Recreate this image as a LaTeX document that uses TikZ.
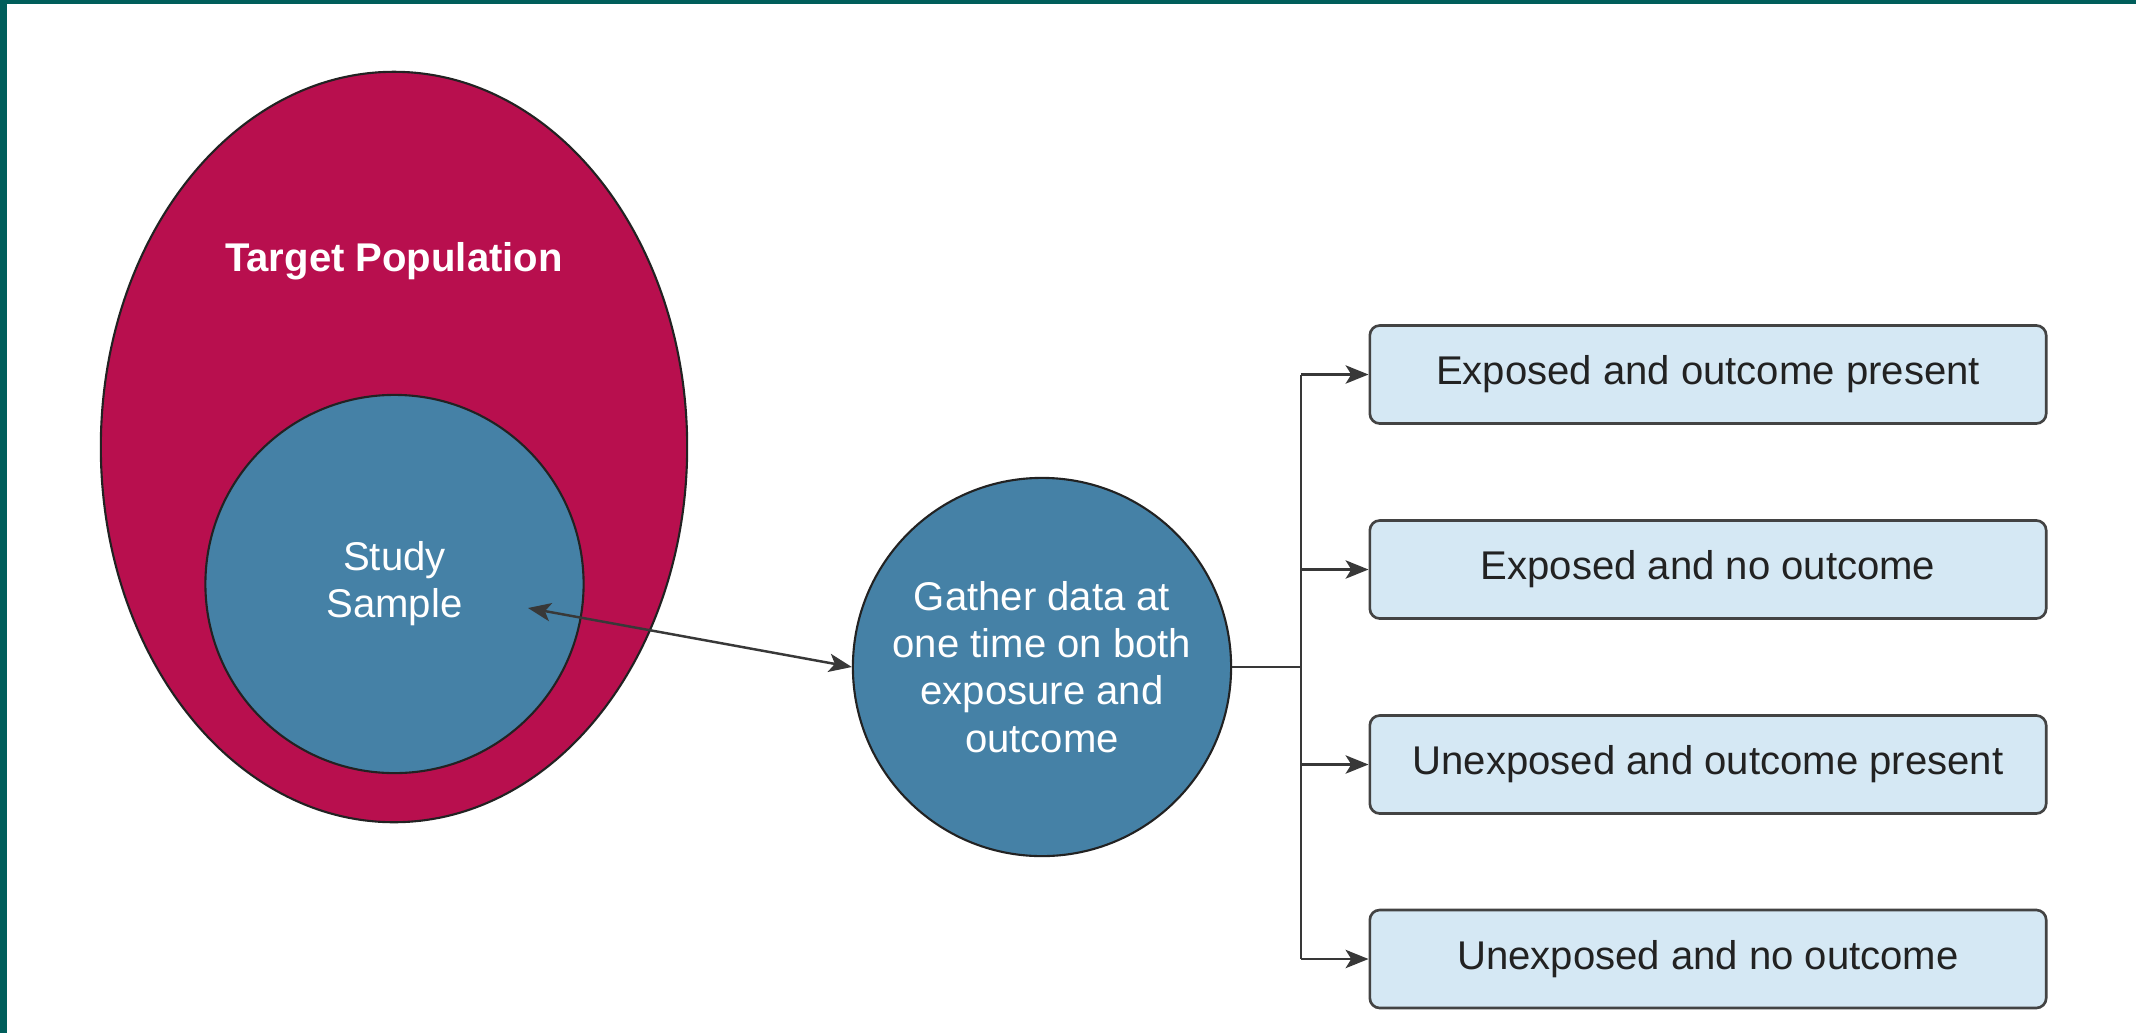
\documentclass[tikz,border=0pt]{standalone}
\usepackage{fontspec}
\setmainfont{Liberation Sans}
\usetikzlibrary{shapes.geometric,arrows.meta}
\definecolor{popred}{RGB}{184,15,78}
\definecolor{sampleblue}{RGB}{69,129,166}
\definecolor{boxfill}{RGB}{213,232,244}
\definecolor{frameteal}{RGB}{0,94,91}
\definecolor{ink}{RGB}{34,34,34}
\begin{document}
\begin{tikzpicture}[x=0.01cm,y=-0.01cm,
  every node/.style={font=\fontsize{11.4}{13.4}\selectfont},
  population/.style={ellipse, draw=ink, line width=0.6pt, fill=popred,
    minimum width=5.86cm, minimum height=7.5cm, inner sep=0pt},
  blob/.style={circle, draw=ink, line width=0.6pt, fill=sampleblue,
    minimum size=3.78cm, inner sep=0pt, text=white, align=center},
  outcomebox/.style={rectangle, rounded corners=0.1cm, draw=ink!85,
    line width=0.75pt, fill=boxfill, minimum width=6.76cm,
    minimum height=0.98cm, inner sep=0pt, text=ink},
  link/.style={draw=ink!90, line width=0.7pt},
  head/.style={Stealth[length=6.5pt,width=5.2pt,inset=1.6pt]}
]
% page background and frame bars
\fill[white] (0,0) rectangle (2136,1033);
\useasboundingbox (0,0) rectangle (2136,1033);
\fill[frameteal] (0,0) rectangle (2136,4);
\fill[frameteal] (0,0) rectangle (7,1033);

% population and sample
\node[population] (pop) at (394,447) {};
\node[font=\bfseries\fontsize{11.4}{13.4}\selectfont, text=white, anchor=base]
  (poplabel) at (394,271) {Target Population};
\node[blob] (sample) at (394.5,584) {Study\\Sample};

% data collection
\node[blob] (gather) at (1042,667) {Gather data at\\one time on both\\exposure and\\outcome};

% the four outcome groups
\node[outcomebox] (b1) at (1708,374.5) {Exposed and outcome present};
\node[outcomebox] (b2) at (1708,569.5) {Exposed and no outcome};
\node[outcomebox] (b3) at (1708,764.5) {Unexposed and outcome present};
\node[outcomebox] (b4) at (1708,959) {Unexposed and no outcome};

% connectors
\coordinate (sampletip) at (528,608);
\coordinate (fork) at (1301,667);
\draw[link, {Stealth[length=6.5pt,width=5.2pt,inset=1.6pt]}-{Stealth[length=6.5pt,width=5.2pt,inset=1.6pt]}]
  (sampletip) -- (gather.west);
\draw[link] (gather.east) -- (fork);
\draw[link] (fork |- b1.west) -- (fork |- b4.west);
\foreach \b in {b1,b2,b3,b4}
  \draw[link, -{Stealth[length=6.5pt,width=5.2pt,inset=1.6pt]}] (fork |- \b.west) -- (\b.west);
\end{tikzpicture}
\end{document}
